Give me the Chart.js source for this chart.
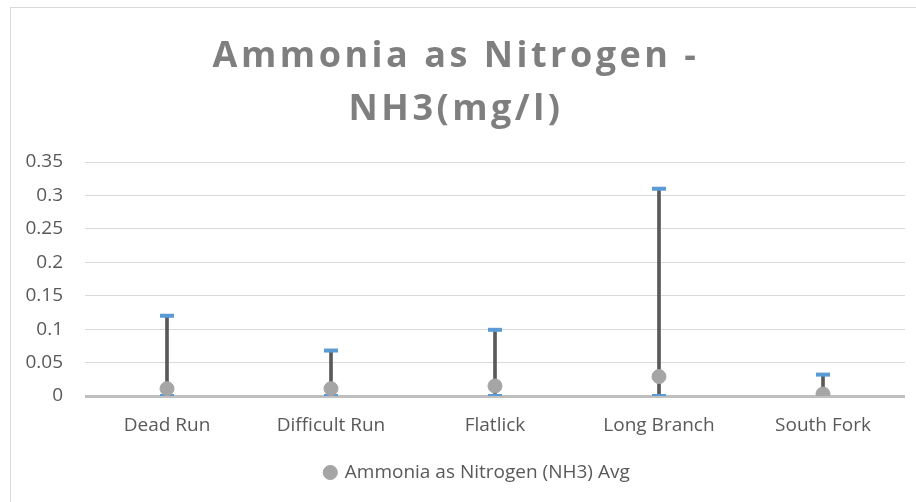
<!DOCTYPE html>
<html>
<head>
<meta charset="utf-8">
<script src="https://cdn.jsdelivr.net/npm/chart.js@4/dist/chart.umd.min.js"></script>
<style>
  html, body { margin: 0; padding: 0; background: #fff; overflow: hidden; }
  #wrap { position: absolute; left: 0; top: 0; width: 916px; height: 502px; }
  #frame { position: absolute; left: 10px; top: 7px; width: 1000px; height: 600px;
           border-top: 1px solid #d9d9d9; border-left: 1px solid #d9d9d9; }
</style>
</head>
<body>
<div id="frame"></div>
<div id="wrap"><canvas id="canvas"></canvas></div>
<script>
// chart data
const categories = ['Dead Run', 'Difficult Run', 'Flatlick', 'Long Branch', 'South Fork']
const maxValues = [0.12, 0.068, 0.099, 0.31, 0.032]
const minValues = [0, 0, 0, 0, 0]
const avgValues = [0.011, 0.011, 0.015, 0.029, 0.003]
const titleLines = ['Ammonia as Nitrogen -', 'NH3(mg/l)']
const avgLabel = 'Ammonia as Nitrogen (NH3) Avg'

const textColor = '#595959'
const fontFamily = "'Open Sans', sans-serif"

// title drawn by hand so the letter spacing can match
const titlePlugin = {
    id: 'spacedTitle',
    afterDraw(chart) {
        const ctx = chart.ctx
        ctx.save()
        ctx.font = "bold 36px 'Open Sans', sans-serif"
        ctx.fillStyle = '#7f7f7f'
        ctx.textAlign = 'center'
        ctx.textBaseline = 'alphabetic'
        ctx.letterSpacing = '3.5px'
        ctx.fillText(titleLines[0], 456, 67)
        ctx.fillText(titleLines[1], 456, 120)
        ctx.restore()
    }
}

// nudge the legend a bit to the right like the original
const legendShift = {
    id: 'legendShift',
    afterLayout(chart) {
        chart.legend.left += 24
        chart.legend.right += 24
    }
}

new Chart(document.querySelector('#canvas'), {
    type: 'bar',
    data: {
        labels: categories,
        datasets: [
            {
                label: avgLabel,
                type: 'line',
                data: avgValues,
                showLine: false,
                pointStyle: 'circle',
                pointRadius: 7,
                pointHoverRadius: 7,
                pointBackgroundColor: '#a5a5a5',
                pointBorderColor: '#a5a5a5',
                backgroundColor: '#a5a5a5',
                borderColor: '#a5a5a5',
                order: 0
            },
            {
                label: 'max',
                type: 'line',
                data: maxValues,
                showLine: false,
                pointStyle: 'line',
                pointRadius: 7,
                pointBorderWidth: 4,
                pointBorderColor: '#5b9bd5',
                borderColor: '#5b9bd5',
                order: 1
            },
            {
                label: 'min',
                type: 'line',
                data: minValues,
                showLine: false,
                pointStyle: 'line',
                pointRadius: 7,
                pointBorderWidth: 4,
                pointBorderColor: '#5b9bd5',
                borderColor: '#5b9bd5',
                order: 1
            },
            {
                label: 'range',
                data: categories.map((c, i) => [minValues[i], maxValues[i]]),
                backgroundColor: '#595959',
                borderWidth: 0,
                barThickness: 3,
                order: 2
            }
        ]
    },
    options: {
        responsive: true,
        maintainAspectRatio: false,
        animation: false,
        layout: {
            padding: { left: 0, right: 9, top: 162, bottom: 10 }
        },
        scales: {
            x: {
                grid: { display: false },
                border: { display: false },
                ticks: {
                    color: textColor,
                    font: { family: fontFamily, size: 19 },
                    padding: 10
                },
                afterFit: (scale) => { scale.height = 57 }
            },
            y: {
                min: 0,
                max: 0.35,
                border: { display: false },
                grid: {
                    drawTicks: false,
                    color: (c) => c.tick && c.tick.value === 0 ? '#bfbfbf' : '#d9d9d9',
                    lineWidth: (c) => c.tick && c.tick.value === 0 ? 3 : 1
                },
                ticks: {
                    stepSize: 0.05,
                    color: textColor,
                    font: { family: fontFamily, size: 19 },
                    padding: 22,
                    callback: (value) => String(Number(value.toFixed(2)))
                },
                afterFit: (scale) => { scale.width = 85 }
            }
        },
        plugins: {
            title: { display: false },
            tooltip: { enabled: false },
            legend: {
                position: 'bottom',
                labels: {
                    color: textColor,
                    font: { family: fontFamily, size: 19 },
                    usePointStyle: true,
                    boxWidth: 10,
                    boxHeight: 10,
                    padding: 10,
                    filter: (item) => item.datasetIndex === 0
                }
            }
        }
    },
    plugins: [titlePlugin, legendShift]
})
</script>
</body>
</html>
